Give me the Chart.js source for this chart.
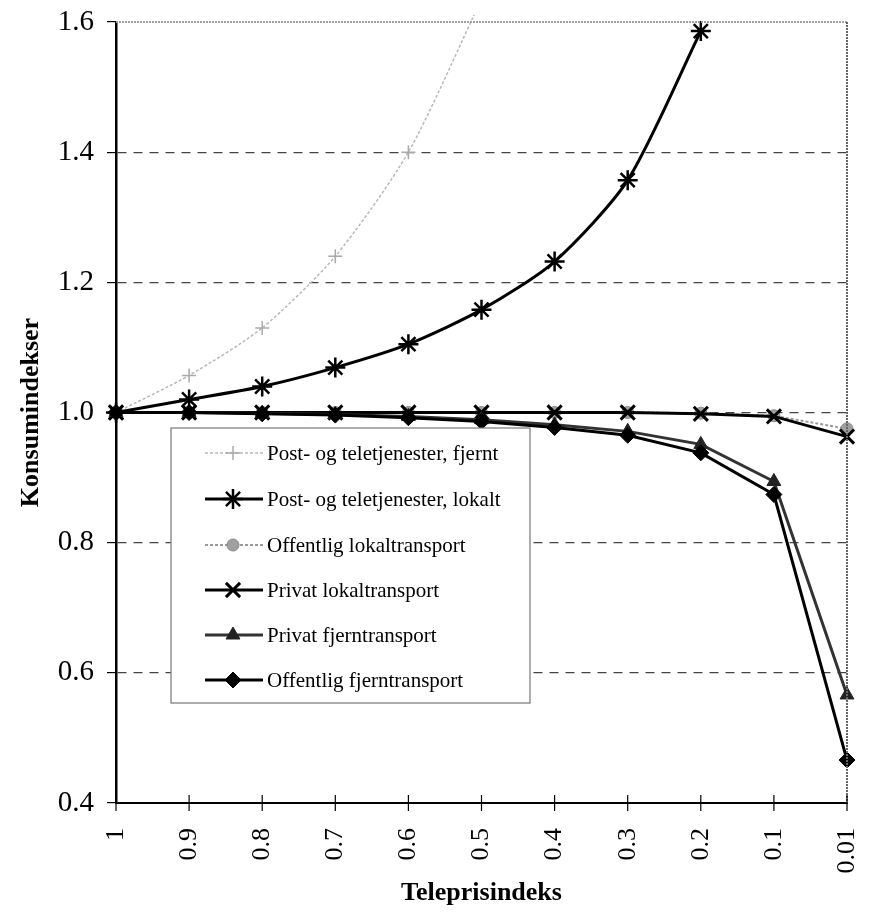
<!DOCTYPE html>
<html>
<head>
<meta charset="utf-8">
<script src="https://cdn.jsdelivr.net/npm/chart.js@4/dist/chart.umd.min.js"></script>
<style>
html,body{margin:0;padding:0;background:#fff;}
#wrap{width:870px;height:920px;}
</style>
</head>
<body>
<div id="wrap"><canvas id="c" width="870" height="920"></canvas></div>
<script>
// ---- data ----
const categories = ['1','0.9','0.8','0.7','0.6','0.5','0.4','0.3','0.2','0.1','0.01'];
const seriesNames = [
  'Post- og teletjenester, fjernt',
  'Post- og teletjenester, lokalt',
  'Offentlig lokaltransport',
  'Privat lokaltransport',
  'Privat fjerntransport',
  'Offentlig fjerntransport'
];
const postFjernt   = [1.0, 1.057, 1.13, 1.24, 1.40, 1.635, null, null, null, null, null];
const postLokalt   = [1.0, 1.02, 1.04, 1.069, 1.105, 1.158, 1.232, 1.357, 1.586, null, null];
const offLokal     = [1.0, 1.0, 1.0, 1.0, 1.0, 1.0, 1.0, 1.0, 0.999, 0.995, 0.975];
const privLokal    = [1.0, 1.0, 1.0, 1.0, 1.0, 1.0, 1.0, 1.0, 0.998, 0.994, 0.963];
const privFjern    = [1.0, 1.0, 0.999, 0.997, 0.994, 0.989, 0.981, 0.971, 0.951, 0.894, 0.566];
const offFjern     = [1.0, 1.0, 0.998, 0.996, 0.992, 0.986, 0.977, 0.965, 0.938, 0.874, 0.466];
const yTicks = [0.4, 0.6, 0.8, 1.0, 1.2, 1.4, 1.6];
const xTitle = 'Teleprisindeks';
const yTitle = 'Konsumindekser';

const SERIF = "'Liberation Serif', 'Times New Roman', serif";
const clipBox = {left: 15, right: 15, top: 7, bottom: 15};

const styles = [
  {borderColor:'#b8b8b8', borderWidth:1.5, borderDash:[3,2], pointStyle:'cross', pointRadius:7, pointBorderColor:'#aaaaaa', pointBackgroundColor:'#aaaaaa', pointBorderWidth:1.5, tension:0.25},
  {borderColor:'#000', borderWidth:3, borderDash:[], pointStyle:'star', pointRadius:10, pointBorderColor:'#000', pointBackgroundColor:'#000', pointBorderWidth:2.5, tension:0.25},
  {borderColor:'#9a9a9a', borderWidth:2, borderDash:[3,2], pointStyle:'circle', pointRadius:6, pointBorderColor:'#888', pointBackgroundColor:'#a0a0a0', pointBorderWidth:1, tension:0},
  {borderColor:'#000', borderWidth:3, borderDash:[], pointStyle:'crossRot', pointRadius:10, pointBorderColor:'#000', pointBackgroundColor:'#000', pointBorderWidth:3, tension:0},
  {borderColor:'#333', borderWidth:3, borderDash:[], pointStyle:'triangle', pointRadius:8, pointBorderColor:'#222', pointBackgroundColor:'#222', pointBorderWidth:1, tension:0},
  {borderColor:'#000', borderWidth:3, borderDash:[], pointStyle:'rectRot', pointRadius:8, pointBorderColor:'#000', pointBackgroundColor:'#000', pointBorderWidth:1, tension:0}
];
const allData = [postFjernt, postLokalt, offLokal, privLokal, privFjern, offFjern];

const datasets = allData.map((d, i) => Object.assign({
  label: seriesNames[i],
  data: d,
  fill: false,
  clip: clipBox,
  order: 6 - i,
  pointHoverRadius: styles[i].pointRadius
}, styles[i]));

const frame = {
  id: 'frame',
  afterDraw(chart) {
    const ctx = chart.ctx, a = chart.chartArea;
    ctx.save();
    // top border
    ctx.strokeStyle = '#a0a0a0'; ctx.lineWidth = 2; ctx.setLineDash([2,1]);
    ctx.beginPath(); ctx.moveTo(a.left, a.top); ctx.lineTo(a.right, a.top); ctx.stroke();
    // right border
    ctx.strokeStyle = '#666'; ctx.lineWidth = 2; ctx.setLineDash([2,1]);
    ctx.beginPath(); ctx.moveTo(a.right, a.top); ctx.lineTo(a.right, a.bottom); ctx.stroke();
    ctx.setLineDash([]);
    // x axis crossing tick marks
    const xs = chart.scales.x;
    ctx.strokeStyle = '#000'; ctx.lineWidth = 1.2;
    categories.forEach((c, i) => {
      const x = xs.getPixelForValue(i);
      ctx.beginPath(); ctx.moveTo(x, a.bottom - 8); ctx.lineTo(x, a.bottom + 8); ctx.stroke();
    });
    // axis titles
    ctx.fillStyle = '#000';
    ctx.font = 'bold 26px ' + SERIF;
    ctx.textAlign = 'center'; ctx.textBaseline = 'middle';
    ctx.fillText(xTitle, (a.left + a.right) / 2, 893);
    ctx.save();
    ctx.translate(31, (a.top + a.bottom) / 2);
    ctx.rotate(-Math.PI / 2);
    ctx.fillText(yTitle, 0, 0);
    ctx.restore();
    // legend
    const L = {x: 171, y: 428, w: 359, h: 275};
    ctx.fillStyle = '#fff';
    ctx.fillRect(L.x, L.y, L.w, L.h);
    ctx.strokeStyle = '#777'; ctx.lineWidth = 1.2;
    ctx.strokeRect(L.x, L.y, L.w, L.h);
    const rows = [453, 499, 545, 590, 635, 680];
    ctx.font = '21px ' + SERIF;
    ctx.textAlign = 'left'; ctx.textBaseline = 'middle';
    datasets.forEach((ds, i) => {
      const y = rows[i];
      ctx.save();
      ctx.strokeStyle = ds.borderColor; ctx.lineWidth = ds.borderWidth;
      ctx.setLineDash(ds.borderDash || []);
      ctx.beginPath(); ctx.moveTo(205, y); ctx.lineTo(263, y); ctx.stroke();
      ctx.setLineDash([]);
      ctx.strokeStyle = ds.pointBorderColor; ctx.fillStyle = ds.pointBackgroundColor;
      ctx.lineWidth = ds.pointBorderWidth;
      Chart.helpers.drawPoint(ctx, {pointStyle: ds.pointStyle, radius: ds.pointRadius, rotation: 0, borderWidth: ds.pointBorderWidth}, 233, y);
      ctx.restore();
      ctx.fillStyle = '#000';
      ctx.fillText(ds.label, 267, y + 1);
    });
    ctx.restore();
  }
};

new Chart(document.getElementById('c'), {
  type: 'line',
  data: {labels: categories, datasets: datasets},
  options: {
    responsive: false,
    animation: false,
    events: [],
    layout: {padding: {left: 0, top: 22, right: 23, bottom: 0}},
    plugins: {legend: {display: false}, title: {display: false}, tooltip: {enabled: false}},
    scales: {
      x: {
        type: 'category',
        offset: false,
        afterFit(s) { s.height = 117; s.paddingLeft = 0; s.paddingRight = 0; },
        grid: {display: true, drawOnChartArea: false, drawTicks: false},
        border: {display: true, color: '#000', width: 2},
        ticks: {
          color: '#000', font: {family: SERIF, size: 26},
          minRotation: 90, maxRotation: 90, padding: 25, autoSkip: false
        }
      },
      y: {
        min: 0.4, max: 1.6,
        afterFit(s) { s.width = 116; s.paddingTop = 0; s.paddingBottom = 0; },
        afterBuildTicks(s) { s.ticks = yTicks.map(v => ({value: v})); },
        grid: {
          drawTicks: true, tickLength: 9,
          color: (c) => (c.tick && (Math.abs(c.tick.value - 0.4) < 1e-6 || Math.abs(c.tick.value - 1.6) < 1e-6)) ? 'rgba(0,0,0,0)' : '#444',
          tickColor: '#000', lineWidth: 1.2
        },
        border: {display: true, color: '#000', width: 2.5, dash: [9, 7]},
        ticks: {
          color: '#000', font: {family: SERIF, size: 29}, padding: 13,
          callback: (v) => Number(v).toFixed(1)
        }
      }
    }
  },
  plugins: [frame]
});
</script>
</body>
</html>
